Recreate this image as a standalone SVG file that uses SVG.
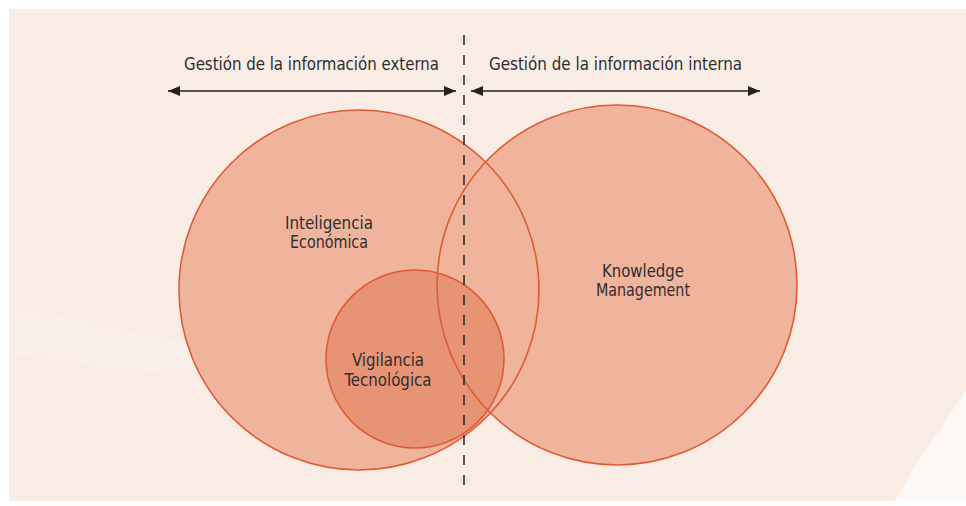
<svg xmlns="http://www.w3.org/2000/svg" width="966" height="506" viewBox="0 0 966 506">
<style>
.lbl{font-family:"DejaVu Sans Condensed","DejaVu Sans","Liberation Sans",sans-serif;font-size:17px;fill:#2e2e2e;text-anchor:middle}
.hdr{font-family:"DejaVu Sans Condensed","DejaVu Sans","Liberation Sans",sans-serif;font-size:17.5px;fill:#2e2e2e;text-anchor:middle}
.big{fill:#F0B49C}
.small{fill:#E69474}
.ring{fill:none;stroke:#E05A35;stroke-width:1.6}
.arr{stroke:#222;stroke-width:1.5;fill:none}
</style>
<defs>
<marker id="ah" viewBox="0 0 12 10" refX="12" refY="5" markerWidth="12" markerHeight="10" markerUnits="userSpaceOnUse" orient="auto-start-reverse">
<path d="M0,0 L12,5 L0,10 Z" fill="#222"/>
</marker>
</defs>
<rect width="966" height="506" fill="#fff"/>
<rect x="9" y="9" width="957" height="492" fill="#F9ECE5"/>
<polygon points="966,390 940,430 915,465 895,501 966,501" fill="#FDF8F5"/>
<polygon points="9,310 60,315 120,330 200,345 200,375 120,370 60,360 9,355" fill="#FBF2ED" opacity="0.4"/>
<g id="fills">
<circle cx="359" cy="290" r="180" class="big"/>
<circle cx="617" cy="285" r="180" class="big"/>
<circle cx="415" cy="359" r="89" class="small"/>
</g>
<g id="inteligencia-economica">
<circle cx="359" cy="290" r="180" class="ring"/>
<text class="lbl" x="329" y="229" textLength="88" lengthAdjust="spacingAndGlyphs">Inteligencia</text>
<text class="lbl" x="329" y="248" textLength="78" lengthAdjust="spacingAndGlyphs">Económica</text>
</g>
<g id="knowledge-management">
<circle cx="617" cy="285" r="180" class="ring"/>
<text class="lbl" x="643" y="277" textLength="82" lengthAdjust="spacingAndGlyphs">Knowledge</text>
<text class="lbl" x="643" y="296" textLength="94" lengthAdjust="spacingAndGlyphs">Management</text>
</g>
<g id="vigilancia-tecnologica">
<circle cx="415" cy="359" r="89" class="ring"/>
<text class="lbl" x="388" y="366" textLength="72" lengthAdjust="spacingAndGlyphs">Vigilancia</text>
<text class="lbl" x="388" y="386" textLength="87" lengthAdjust="spacingAndGlyphs">Tecnológica</text>
</g>
<g id="connectors">
<line x1="464" y1="35" x2="464" y2="486" stroke="#222" stroke-width="1.5" stroke-dasharray="10,10"/>
<line x1="168" y1="91" x2="456" y2="91" class="arr" marker-start="url(#ah)" marker-end="url(#ah)"/>
<line x1="471" y1="91" x2="760" y2="91" class="arr" marker-start="url(#ah)" marker-end="url(#ah)"/>
</g>
<g id="headers">
<text class="hdr" x="311.5" y="70" textLength="255" lengthAdjust="spacingAndGlyphs">Gestión de la información externa</text>
<text class="hdr" x="615.5" y="70" textLength="253" lengthAdjust="spacingAndGlyphs">Gestión de la información interna</text>
</g>
</svg>
